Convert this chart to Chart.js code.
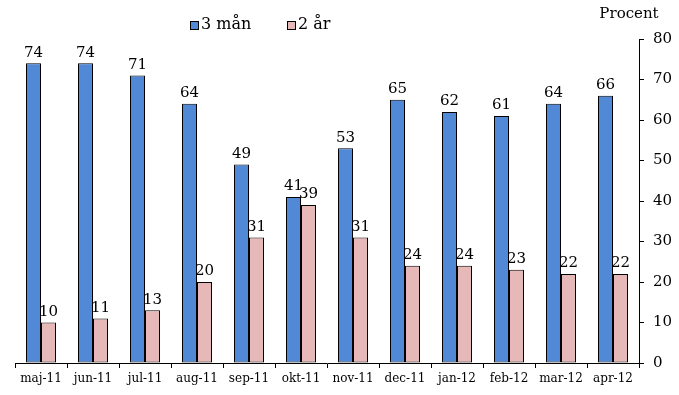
<!DOCTYPE html>
<html>
<head>
<meta charset="utf-8">
<script src="https://cdn.jsdelivr.net/npm/chart.js@4"></script>
<style>
  html, body { margin: 0; padding: 0; background: #fff; }
  #wrap { width: 679px; height: 395px; }
</style>
</head>
<body>
<div id="wrap"><canvas id="chart1" width="679" height="395"></canvas></div>
<script>
// Data
const months = ['maj-11', 'jun-11', 'jul-11', 'aug-11', 'sep-11', 'okt-11', 'nov-11', 'dec-11', 'jan-12', 'feb-12', 'mar-12', 'apr-12'];
const threeMonths = [74, 74, 71, 64, 49, 41, 53, 65, 62, 61, 64, 66];
const twoYears = [10, 11, 13, 20, 31, 39, 31, 24, 24, 23, 22, 22];
const seriesNames = ['3 mån', '2 år'];
const axisTitle = 'Procent';

const FONT = "'DejaVu Serif', Georgia, serif";
const BLUE = '#5289d6';
const PINK = '#e6b9b8';

// Draws values over bars, the legend and the axis title
const extras = {
    id: 'extras',
    afterDatasetsDraw(chart) {
        const c = chart.ctx;
        c.save();
        c.fillStyle = '#000';
        c.font = '15px ' + FONT;
        c.textAlign = 'center';
        c.textBaseline = 'bottom';
        chart.data.datasets.forEach((ds, i) => {
            chart.getDatasetMeta(i).data.forEach((bar, j) => {
                c.fillText(ds.data[j], bar.x, bar.y - 3);
            });
        });

        // legend
        c.font = '16px ' + FONT;
        c.textAlign = 'left';
        c.textBaseline = 'middle';
        const items = [[190, BLUE], [287, PINK]];
        items.forEach(([x, col], i) => {
            c.fillStyle = col;
            c.fillRect(x, 21, 9, 9);
            c.strokeStyle = '#000';
            c.lineWidth = 1;
            c.strokeRect(x + 0.5, 21.5, 8, 8);
            c.fillStyle = '#000';
            c.fillText(seriesNames[i], x + 11, 25);
        });

        // axis title
        c.font = '15px ' + FONT;
        c.textAlign = 'center';
        c.fillText(axisTitle, 629, 14);
        c.restore();
    }
};

window.addEventListener('DOMContentLoaded', () => {
    const ctx = document.getElementById('chart1').getContext('2d');
    new Chart(ctx, {
        type: 'bar',
        data: {
            labels: months,
            datasets: [{
                label: seriesNames[0],
                data: threeMonths,
                backgroundColor: BLUE,
                borderColor: '#000',
                borderWidth: 1,
                borderSkipped: false
            }, {
                label: seriesNames[1],
                data: twoYears,
                backgroundColor: PINK,
                borderColor: '#000',
                borderWidth: 1,
                borderSkipped: false
            }]
        },
        options: {
            responsive: false,
            maintainAspectRatio: false,
            animation: false,
            layout: { padding: { top: 39, left: 15, right: 0, bottom: 0 } },
            datasets: { bar: { categoryPercentage: 30 / 52, barPercentage: 1 } },
            plugins: { legend: { display: false }, tooltip: { enabled: false } },
            scales: {
                x: {
                    grid: { offset: true, drawOnChartArea: false, drawTicks: true, tickLength: 5, color: '#000' },
                    border: { display: true, color: '#000' },
                    ticks: { color: '#000', font: { family: FONT, size: 12 }, padding: 4, maxRotation: 0, autoSkip: false },
                    afterFit: s => { s.height = 32; }
                },
                y: {
                    position: 'right',
                    min: 0,
                    max: 80,
                    grid: { drawOnChartArea: false, drawTicks: true, tickLength: 5, color: '#000' },
                    border: { display: true, color: '#000' },
                    ticks: { stepSize: 10, color: '#000', font: { family: FONT, size: 15 }, padding: 9 },
                    afterFit: s => { s.width = 40; }
                }
            }
        },
        plugins: [extras]
    });
});
</script>
</body>
</html>
